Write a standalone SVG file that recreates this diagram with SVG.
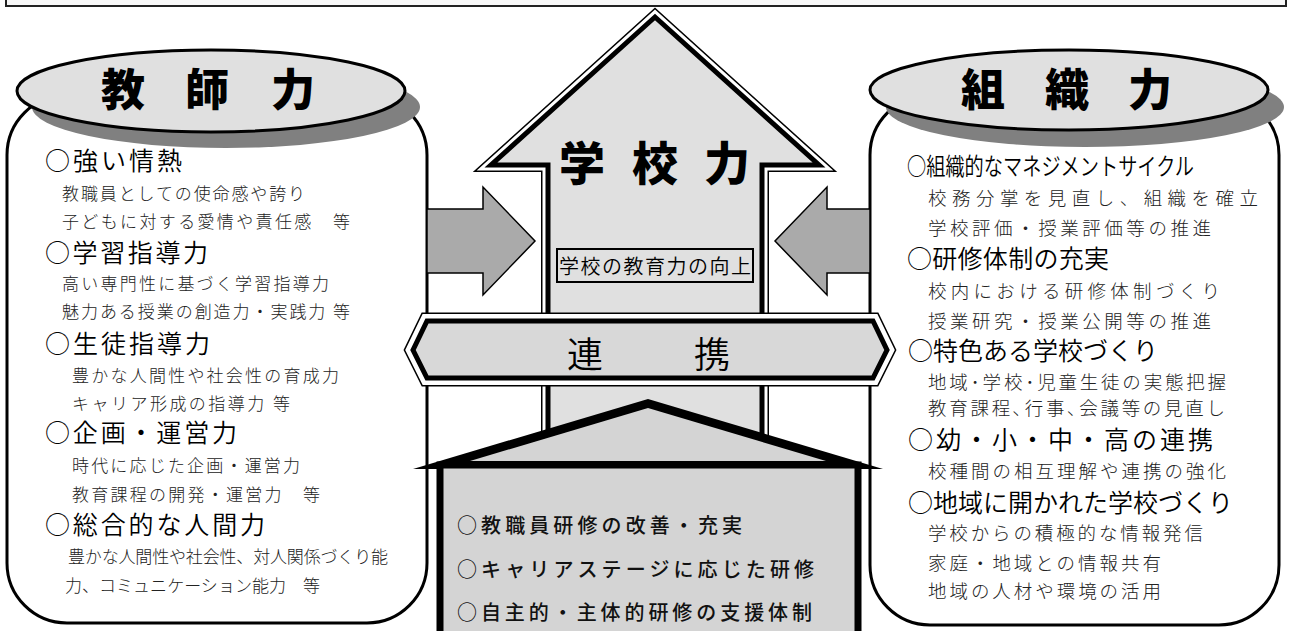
<svg xmlns="http://www.w3.org/2000/svg" width="1292" height="631" viewBox="0 0 1292 631">
<style>
.jp{font-family:"Noto Sans CJK JP","Noto Sans CJK SC",sans-serif}
.title{font-size:44px;font-weight:900;fill:#000;text-anchor:middle}
.h{font-size:25px;font-weight:350;fill:#000}
.s{font-size:17px;font-weight:300;fill:#222}
.sr{font-size:18.5px;font-weight:300;fill:#222}
.b{font-size:20px;font-weight:500;fill:#111}
.card{fill:#fff;stroke:#000;stroke-width:3}
.ell{fill:#e0e0e0;stroke:#000;stroke-width:3}
.shadow{fill:#808080}
.side{fill:#aaaaaa;stroke:#000;stroke-width:1.5;stroke-linejoin:miter}
</style>
<rect x="6" y="-10" width="1280" height="16" fill="#f8f8f8" stroke="#222" stroke-width="2"/>

<g id="teacher">
<rect class="card" x="7" y="95" width="420" height="528" rx="60" ry="60"/>
<ellipse class="shadow" cx="226" cy="107" rx="194" ry="41"/>
<ellipse class="ell" cx="211" cy="91" rx="194" ry="41"/>
<text class="jp title" x="123 207 293" y="106">教師力</text>
</g>

<g id="organization">
<rect class="card" x="870" y="95" width="409" height="530" rx="60" ry="60"/>
<ellipse class="shadow" cx="1085" cy="107" rx="199" ry="40"/>
<ellipse class="ell" cx="1069" cy="90" rx="199" ry="40"/>
<text class="jp title" x="983 1067 1150" y="106">組織力</text>
</g>

<g id="school">
<path d="M548,560 L548,165 L491,165 L655,17 L819,165 L762,165 L762,560 Z" fill="none" stroke="#000" stroke-width="14"/>
<path d="M548,560 L548,165 L491,165 L655,17 L819,165 L762,165 L762,560 Z" fill="none" stroke="#fff" stroke-width="11"/>
<path d="M548,560 L548,165 L491,165 L655,17 L819,165 L762,165 L762,560 Z" fill="#e0e0e0" stroke="#000" stroke-width="5"/>
<text class="jp" x="582 655 727" y="180" style="font-size:46px;font-weight:900;text-anchor:middle">学校力</text>
<rect x="557" y="249" width="196" height="33" fill="#e0e0e0" stroke="#000" stroke-width="2"/>
<text class="jp" x="559" y="274" textLength="192" style="font-size:20px;font-weight:350">学校の教育力の向上</text>
</g>

<g id="connectors">
<path class="side" d="M427,209 L483,209 L483,187 L535,241 L483,295 L483,273 L427,273 Z"/>
<path class="side" d="M870,209 L827,209 L827,187 L775,241 L827,295 L827,273 L870,273 Z"/>
</g>

<g id="renkei">
<path d="M413,350 L427,321 L873,321 L887,350 L873,378 L427,378 Z" fill="none" stroke="#000" stroke-width="17"/>
<path d="M413,350 L427,321 L873,321 L887,350 L873,378 L427,378 Z" fill="none" stroke="#fff" stroke-width="14"/>
<path d="M413,350 L427,321 L873,321 L887,350 L873,378 L427,378 Z" fill="#d8d8d8" stroke="#000" stroke-width="5"/>
<text class="jp" x="585 712" y="368" style="font-size:36px;font-weight:350;text-anchor:middle">連携</text>
</g>

<g id="training">
<polygon points="413,469 648,399 883,469" fill="#000"/>
<polygon points="470,461 648,408 826,461" fill="#d4d4d4"/>
<rect x="440" y="465" width="418" height="200" fill="#d4d4d4" stroke="#000" stroke-width="7"/>
<text class="jp b" x="457" y="533" textLength="285">○教職員研修の改善・充実</text>
<text class="jp b" x="457" y="577" textLength="357">○キャリアステージに応じた研修</text>
<text class="jp b" x="457" y="620" textLength="355">○自主的・主体的研修の支援体制</text>
</g>

<g id="teacher-text">
<text class="jp h" x="45" y="170" textLength="137">○強い情熱</text>
<text class="jp s" x="62" y="200" textLength="243">教職員としての使命感や誇り</text>
<text class="jp s" x="62" y="228" textLength="288">子どもに対する愛情や責任感　等</text>
<text class="jp h" x="45" y="262" textLength="163">○学習指導力</text>
<text class="jp s" x="62" y="290" textLength="267">高い専門性に基づく学習指導力</text>
<text class="jp s" x="62" y="318" textLength="288">魅力ある授業の創造力・実践力 等</text>
<text class="jp h" x="45" y="353" textLength="165">○生徒指導力</text>
<text class="jp s" x="72" y="382" textLength="267">豊かな人間性や社会性の育成力</text>
<text class="jp s" x="72" y="410" textLength="218">キャリア形成の指導力 等</text>
<text class="jp h" x="45" y="442" textLength="192">○企画・運営力</text>
<text class="jp s" x="72" y="472" textLength="228">時代に応じた企画・運営力</text>
<text class="jp s" x="72" y="501" textLength="248">教育課程の開発・運営力　等</text>
<text class="jp h" x="45" y="534" textLength="220">○総合的な人間力</text>
<text class="jp s" x="68" y="563" textLength="320">豊かな人間性や社会性、対人関係づくり能</text>
<text class="jp s" x="65" y="592" textLength="255">力、コミュニケーション能力　等</text>
</g>

<g id="organization-text">
<text class="jp h" x="907" y="175" textLength="287" lengthAdjust="spacingAndGlyphs" style="font-size:24px">○組織的なマネジメントサイクル</text>
<text class="jp sr" x="928" y="205" textLength="330">校務分掌を見直し、組織を確立</text>
<text class="jp sr" x="928" y="235" textLength="283">学校評価・授業評価等の推進</text>
<text class="jp h" x="907" y="268" textLength="202">○研修体制の充実</text>
<text class="jp sr" x="928" y="298" textLength="292">校内における研修体制づくり</text>
<text class="jp sr" x="928" y="328" textLength="283">授業研究・授業公開等の推進</text>
<text class="jp h" x="908" y="360" textLength="250">○特色ある学校づくり</text>
<text class="jp sr" x="928" y="389" textLength="298">地域･学校･児童生徒の実態把握</text>
<text class="jp sr" x="928" y="415" textLength="297">教育課程､行事､会議等の見直し</text>
<text class="jp h" x="908" y="449" textLength="305">○幼・小・中・高の連携</text>
<text class="jp sr" x="928" y="478" textLength="298">校種間の相互理解や連携の強化</text>
<text class="jp h" x="908" y="512" textLength="325">○地域に開かれた学校づくり</text>
<text class="jp sr" x="928" y="540" textLength="275">学校からの積極的な情報発信</text>
<text class="jp sr" x="928" y="570" textLength="233">家庭・地域との情報共有</text>
<text class="jp sr" x="928" y="598" textLength="233">地域の人材や環境の活用</text>
</g>
</svg>
